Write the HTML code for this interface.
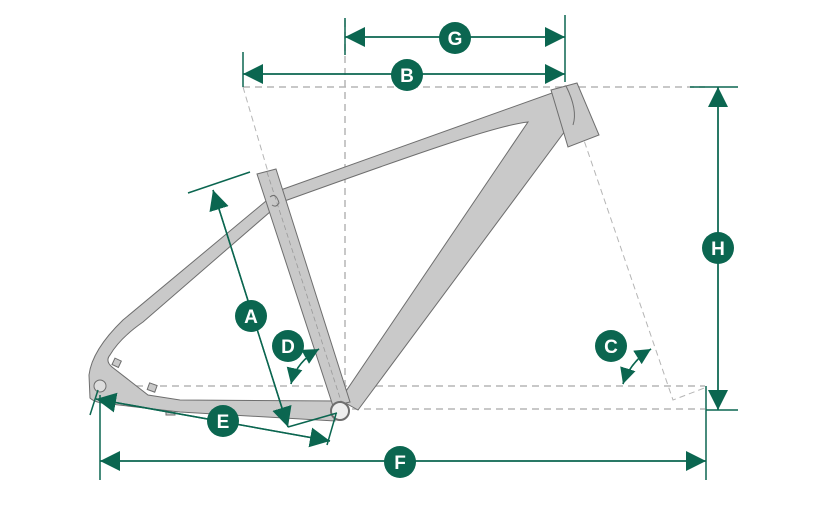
<!DOCTYPE html>
<html><head><meta charset="utf-8"><style>
html,body{margin:0;padding:0;background:#fff;}
svg{display:block}
text{font-family:"Liberation Sans",sans-serif;font-weight:bold;fill:#fff;font-size:19px;text-anchor:middle}
</style></head><body>
<svg width="825" height="516" viewBox="0 0 825 516" xmlns="http://www.w3.org/2000/svg">
<defs>
<marker id="ar" viewBox="0 0 10 10" refX="10" refY="5" markerWidth="16" markerHeight="16" markerUnits="userSpaceOnUse" orient="auto"><path d="M0,0 L10,5 L0,10z" fill="#0b6650"/></marker>
<marker id="ar2" viewBox="0 0 10 10" refX="10" refY="5" markerWidth="20" markerHeight="20" markerUnits="userSpaceOnUse" orient="auto"><path d="M0,0 L10,5 L0,10z" fill="#0b6650"/></marker>
</defs>
<g stroke="#b5b5b5" stroke-width="1.5" fill="none" stroke-dasharray="7,5">
<line x1="243" y1="87" x2="705" y2="87"/>
<line x1="100" y1="386" x2="705" y2="386"/>
<line x1="340" y1="409" x2="705" y2="409"/>
<line x1="345" y1="20" x2="345" y2="405"/>
</g>
<g stroke="#b5b5b5" stroke-width="1" fill="none" stroke-dasharray="6,4">
<line x1="243" y1="87" x2="268" y2="172"/>
<polyline points="565,85 673,400 707,387"/>
</g>
<g fill="#c9c9c9" stroke="#6e6e6e" stroke-width="1">
<rect x="113" y="359" width="7" height="7" transform="rotate(25 116 363)"/>
<rect x="148" y="384" width="8" height="7" transform="rotate(20 152 388)"/>
<rect x="166" y="409" width="9" height="6"/>
<path d="M272,196 L123,320 Q92,350 89,375 L90,398 Q95,403 110,404 L180,412 L335,421 L338,401 L180,400 L148,395 L112,367 Q105,361 110,355 Q120,338 143,322 L278,205 Z"/>
<path d="M275,192 L552,93 C570,100 574,118 568,127 L358,410 L340,400 L528,122 C500,125 440,145 279,203 Z"/>
<path d="M257,174 L276,169 L350,402 L333,406 Z"/>
<line x1="267" y1="172" x2="342" y2="404" stroke="#999" stroke-width="0.8" stroke-dasharray="5,3" fill="none"/>
<path d="M270,197 Q276,192 279,203 Q276,208 272,205" fill="none"/>
<path d="M551,90 L577,83 L599,135 L568,147 Z"/>
<path d="M566,86 Q578,110 573,125" fill="none"/>
<circle cx="100" cy="386" r="6" fill="#ddd"/>
<circle cx="340" cy="411" r="9" fill="#eee" stroke-width="2"/>
</g>
<g stroke="#0b6650" stroke-width="1.5" fill="none">
<line x1="345" y1="18" x2="345" y2="55"/>
<line x1="565" y1="15" x2="565" y2="82"/>
<line x1="345" y1="37" x2="565" y2="37" marker-end="url(#ar2)"/>
<line x1="565" y1="37" x2="345" y2="37" marker-end="url(#ar2)"/>
<line x1="243" y1="52" x2="243" y2="87"/>
<line x1="243" y1="74" x2="565" y2="74" marker-end="url(#ar2)"/>
<line x1="565" y1="74" x2="243" y2="74" marker-end="url(#ar2)"/>
<line x1="690" y1="87" x2="738" y2="87"/>
<line x1="706" y1="410" x2="738" y2="410"/>
<line x1="718" y1="87" x2="718" y2="410" marker-end="url(#ar2)"/>
<line x1="718" y1="410" x2="718" y2="87" marker-end="url(#ar2)"/>
<line x1="100" y1="395" x2="100" y2="480"/>
<line x1="706" y1="386" x2="706" y2="480"/>
<line x1="100" y1="461" x2="706" y2="461" marker-end="url(#ar2)"/>
<line x1="706" y1="461" x2="100" y2="461" marker-end="url(#ar2)"/>
<line x1="188" y1="193" x2="250" y2="172"/>
<line x1="213" y1="190" x2="288" y2="427" marker-end="url(#ar2)"/>
<line x1="288" y1="427" x2="213" y2="190" marker-end="url(#ar2)"/>
<line x1="288" y1="427" x2="337" y2="413"/>
<line x1="90" y1="415" x2="98" y2="390"/>
<line x1="327" y1="445" x2="336" y2="414"/>
<line x1="96" y1="399" x2="330" y2="441" marker-end="url(#ar2)"/>
<line x1="330" y1="441" x2="96" y2="399" marker-end="url(#ar2)"/>
<path d="M291,384 Q296,362 319,349" marker-end="url(#ar)"/>
<path d="M319,349 Q296,362 291,384" marker-end="url(#ar)"/>
<path d="M623,384 Q630,362 651,349" marker-end="url(#ar)"/>
<path d="M651,349 Q630,362 623,384" marker-end="url(#ar)"/>
</g>
<g fill="#0b6650">
<circle cx="455" cy="38" r="16"/><circle cx="407" cy="75" r="16"/>
<circle cx="718" cy="248" r="16"/><circle cx="400" cy="462" r="16"/>
<circle cx="251" cy="316" r="16"/><circle cx="288" cy="346" r="16"/>
<circle cx="223" cy="421" r="16"/><circle cx="611" cy="346" r="16"/>
</g>
<text x="455" y="45">G</text><text x="407" y="82">B</text>
<text x="718" y="255">H</text><text x="400" y="469">F</text>
<text x="251" y="323">A</text><text x="288" y="353">D</text>
<text x="223" y="428">E</text><text x="611" y="353">C</text>
</svg>
</body></html>
